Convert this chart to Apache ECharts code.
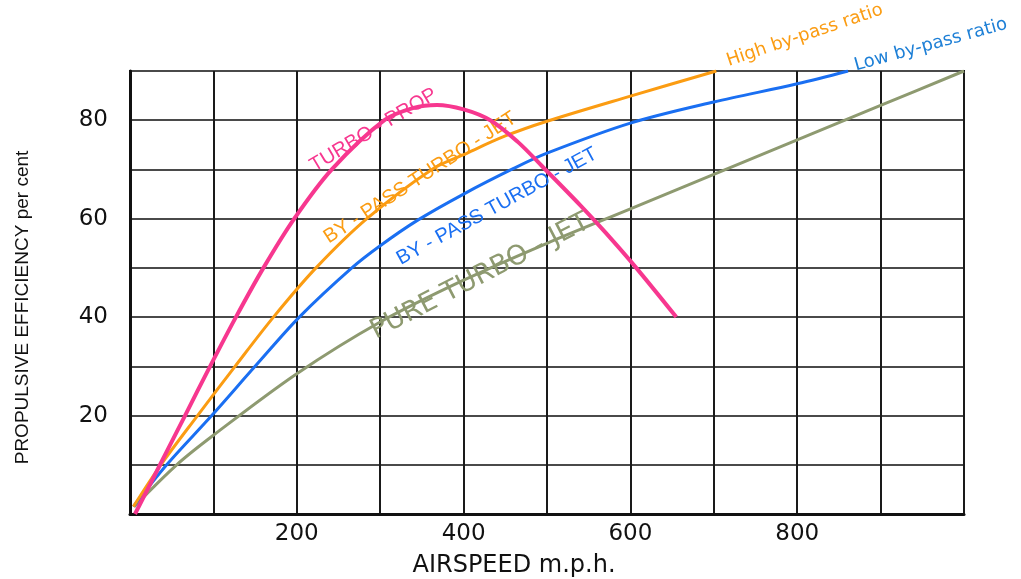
<!DOCTYPE html>
<html>
<head>
<meta charset="utf-8">
<script src="https://cdn.jsdelivr.net/npm/echarts@6/dist/echarts.min.js"></script>
<style>
html,body{margin:0;padding:0;background:#fff;}
#chart{width:1021px;height:579px;}
</style>
</head>
<body>
<div id="chart"></div>
<script>
// ---- data ----
var xTickLabels = [200, 400, 600, 800];
var yTickLabels = [20, 40, 60, 80];

var turboProp = [[6,0],[36,10],[66,20],[96,30],[127,40],[160,50],[197,60],[242,70],[305,80],[340,82.5],[368,83.1],[400,82.2],[432,80],[465,75.6],[495,70.5],[540,62.7],[570,57.2],[607,50],[655,40]];
var highBypass = [[4,1.5],[37,10],[81,20],[126,30],[172,40],[223,50],[284,60],[362,70],[400,73],[450,76.8],[500,79.8],[600,84.9],[703,90]];
var lowBypass  = [[4,1.5],[44,10],[98,20],[150,30],[203,40],[266,50],[300,54.5],[345,59.7],[400,65],[460,70.2],[500,73.3],[600,79.4],[700,83.7],[800,87.4],[861,90]];
var pureJet    = [[5,1.5],[56,10],[100,16],[200,28.5],[300,39],[400,47.5],[500,55],[600,62],[700,69],[800,76],[900,83],[1000,90]];

var names = ['TURBO - PROP', 'BY - PASS TURBO - JET', 'BY - PASS TURBO - JET', 'PURE TURBO - JET'];
var endNames = ['High by-pass ratio', 'Low by-pass ratio'];

var C_PINK = '#f7378f', C_ORANGE = '#fb9c12', C_BLUE = '#1a6ff2', C_OLIVE = '#8e9a70', C_BLUE2 = '#1d7fd6';
var SMOOTH = 0.33;

function textMark(coord, text, color, rotate, size, family) {
  return {
    coord: coord, symbol: 'circle', symbolSize: 0,
    label: { show: true, position: 'inside', formatter: text, color: color, rotate: rotate,
             fontSize: size, fontFamily: family || 'Liberation Sans' }
  };
}

var chart = echarts.init(document.getElementById('chart'), null, {renderer: 'canvas'});
var option = {
  animation: false,
  backgroundColor: '#fff',
  grid: { left: 130, right: 57, top: 71, bottom: 65, outerBoundsMode: 'none', containLabel: false,
          show: true, borderColor: '#111', borderWidth: 2, backgroundColor: 'transparent' },
  xAxis: {
    type: 'value', min: 0, max: 1000, interval: 100,
    name: 'AIRSPEED m.p.h.', nameLocation: 'middle', nameGap: 40,
    nameTextStyle: { fontSize: 24, color: '#111', fontFamily: 'DejaVu Sans', padding: [0, 66, 0, 0] },
    axisLine: { show: true, lineStyle: { color: '#111', width: 3 } },
    axisTick: { show: false },
    axisLabel: { margin: 9, fontSize: 23, color: '#111', fontFamily: 'DejaVu Sans',
      formatter: function (v) { return xTickLabels.indexOf(v) >= 0 ? String(v) : ''; } },
    splitLine: { show: true, lineStyle: { color: '#1a1a1a', width: 2 } }
  },
  yAxis: {
    type: 'value', min: 0, max: 90, interval: 10,
    name: 'PROPULSIVE EFFICIENCY per cent', nameLocation: 'middle', nameGap: 98, nameRotate: 90,
    nameTextStyle: { fontSize: 19, color: '#111', fontFamily: 'Liberation Sans', padding: [0, 30, 0, 0] },
    axisLine: { show: true, lineStyle: { color: '#111', width: 3 } },
    axisTick: { show: false },
    axisLabel: { margin: 22, fontSize: 23, color: '#111', fontFamily: 'DejaVu Sans',
      formatter: function (v) { return yTickLabels.indexOf(v) >= 0 ? String(v) : ''; } },
    splitLine: { show: true, lineStyle: { color: '#4a4a4a', width: 2 } }
  },
  series: [
    { name: names[3], type: 'line', data: pureJet, smooth: SMOOTH, showSymbol: false,
      lineStyle: { color: C_OLIVE, width: 3 }, z: 3,
      markPoint: { data: [ textMark([420, 48.2], names[3], C_OLIVE, 27.5, 27, 'DejaVu Sans') ] } },
    { name: 'low', type: 'line', data: lowBypass, smooth: SMOOTH, showSymbol: false,
      lineStyle: { color: C_BLUE, width: 3 }, z: 4,
      markPoint: { data: [ textMark([440, 62.5], names[2], C_BLUE, 28.6, 20) ] } },
    { name: 'high', type: 'line', data: highBypass, smooth: SMOOTH, showSymbol: false,
      lineStyle: { color: C_ORANGE, width: 3 }, z: 5,
      markPoint: { data: [ textMark([348, 68.3], names[1], C_ORANGE, 33, 20) ] } },
    { name: names[0], type: 'line', data: turboProp, smooth: SMOOTH, showSymbol: false,
      lineStyle: { color: C_PINK, width: 4 }, z: 6,
      markPoint: { data: [ textMark([292, 78], names[0], C_PINK, 31, 20) ] } }
  ]
};
chart.setOption(option);

// end-of-curve labels, placed through the chart's own scales
var endLabels = [
  { coord: [716, 91.9], text: endNames[0], color: C_ORANGE, rot: 18.6 },
  { coord: [869, 91.0], text: endNames[1], color: C_BLUE2, rot: 15.5 }
];
chart.setOption({
  graphic: endLabels.map(function (l) {
    var p = chart.convertToPixel({ gridIndex: 0 }, l.coord);
    return { type: 'text', x: p[0], y: p[1], rotation: l.rot * Math.PI / 180, z: 10,
      style: { text: l.text, fill: l.color, fontSize: 18, fontFamily: 'DejaVu Sans', align: 'left', verticalAlign: 'middle' } };
  })
});
</script>
</body>
</html>
